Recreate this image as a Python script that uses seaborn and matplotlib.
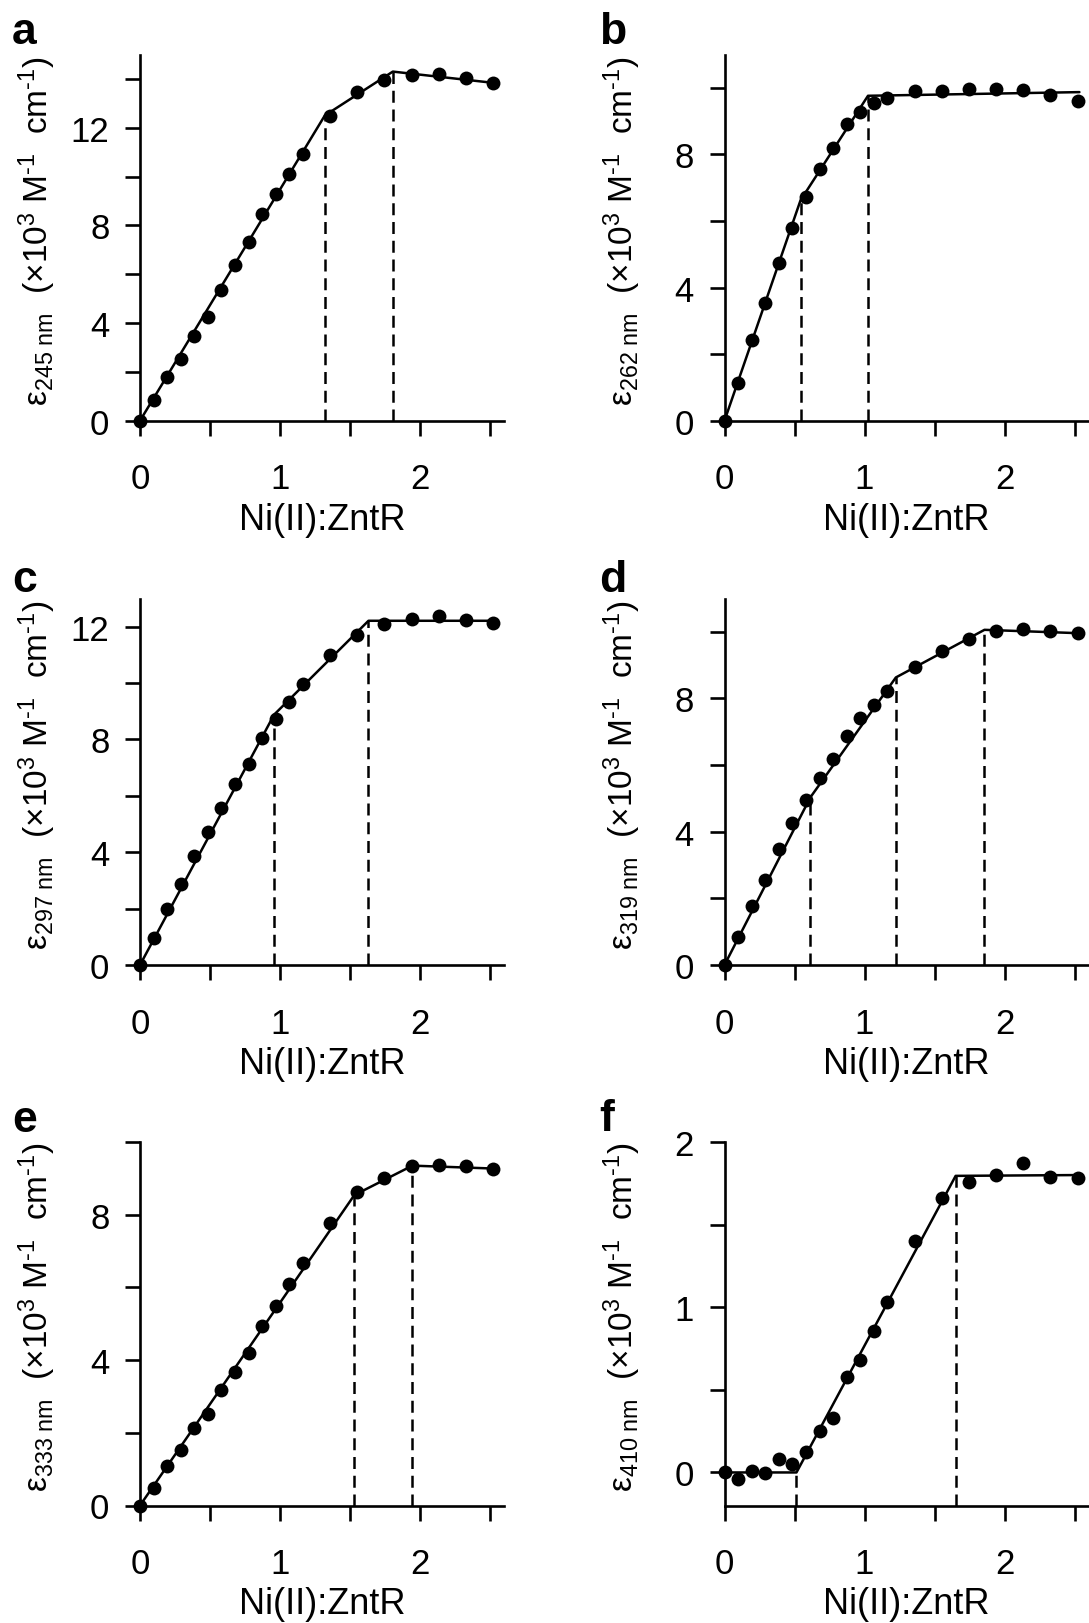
import numpy as np
import pandas as pd
import matplotlib
matplotlib.use("Agg")
import matplotlib.pyplot as plt
import seaborn as sns

# Ni(II):ZntR molar ratio for each titration point (shared by all panels)
ratio = [0.000, 0.097, 0.194, 0.291, 0.388, 0.485, 0.582, 0.679, 0.776, 0.873,
         0.970, 1.067, 1.164, 1.358, 1.552, 1.746, 1.940, 2.134, 2.328, 2.522]

# Extinction coefficients (x10^3 M^-1 cm^-1) at each wavelength
eps_245 = [0.00, 0.84, 1.77, 2.54, 3.48, 4.26, 5.35, 6.37, 7.33, 8.47,
           9.28, 10.10, 10.91, 12.50, 13.48, 13.96, 14.17, 14.21, 14.04, 13.84]
eps_262 = [0.00, 1.13, 2.43, 3.55, 4.75, 5.79, 6.72, 7.55, 8.18, 8.90,
           9.27, 9.53, 9.68, 9.89, 9.91, 9.97, 9.96, 9.93, 9.79, 9.61]
eps_297 = [0.00, 0.94, 1.98, 2.87, 3.88, 4.73, 5.58, 6.41, 7.14, 8.06,
           8.71, 9.34, 9.95, 11.01, 11.72, 12.11, 12.27, 12.37, 12.25, 12.12]
eps_319 = [0.00, 0.83, 1.76, 2.56, 3.49, 4.26, 4.95, 5.62, 6.19, 6.88,
           7.42, 7.81, 8.23, 8.95, 9.42, 9.78, 10.01, 10.09, 10.03, 9.96]
eps_333 = [0.00, 0.49, 1.09, 1.52, 2.12, 2.53, 3.18, 3.67, 4.20, 4.95,
           5.48, 6.10, 6.66, 7.78, 8.63, 9.01, 9.35, 9.36, 9.35, 9.25]
eps_410 = [0.000, -0.040, 0.010, -0.004, 0.084, 0.052, 0.126, 0.253, 0.331, 0.577,
           0.680, 0.858, 1.031, 1.400, 1.660, 1.760, 1.800, 1.870, 1.790, 1.785]

# Piecewise-linear fits: vertices (ratio, epsilon); inner vertices are breakpoints
fit_245_x = [0.0, 1.320, 1.806, 2.522]
fit_245_y = [0.0, 12.50, 14.30, 13.84]
fit_262_x = [0.0, 0.543, 1.025, 2.535]
fit_262_y = [0.0, 6.62, 9.76, 9.87]
fit_297_x = [0.0, 0.958, 1.632, 2.522]
fit_297_y = [0.0, 8.88, 12.21, 12.21]
fit_319_x = [0.0, 0.613, 1.224, 1.857, 2.522]
fit_319_y = [0.0, 5.03, 8.63, 10.06, 9.96]
fit_333_x = [0.0, 1.531, 1.946, 2.522]
fit_333_y = [0.0, 8.54, 9.35, 9.27]
fit_410_x = [0.0, 0.514, 1.651, 2.535]
fit_410_y = [0.0, 0.0, 1.795, 1.800]

wavelengths = ["245", "262", "297", "319", "333", "410"]
panel_letters = ["a", "b", "c", "d", "e", "f"]
y_limits = [(0, 15), (0, 11), (0, 13), (0, 11), (0, 10), (-0.2, 2)]
y_tick_step = [2, 2, 2, 2, 2, 0.5]
y_label_step = [4, 4, 4, 4, 4, 1]
x_ticks = [0, 0.5, 1, 1.5, 2, 2.5]
x_tick_labels = ["0", "", "1", "", "2", ""]

series = [eps_245, eps_262, eps_297, eps_319, eps_333, eps_410]
fits = [(fit_245_x, fit_245_y), (fit_262_x, fit_262_y), (fit_297_x, fit_297_y),
        (fit_319_x, fit_319_y), (fit_333_x, fit_333_y), (fit_410_x, fit_410_y)]

sns.set_style("ticks")
plt.rcParams["font.family"] = ["Liberation Sans", "DejaVu Sans"]
plt.rcParams["mathtext.fontset"] = "custom"
plt.rcParams["mathtext.rm"] = "Liberation Sans"
plt.rcParams["mathtext.it"] = "Liberation Sans:italic"
plt.rcParams["mathtext.bf"] = "Liberation Sans:bold"
plt.rcParams["mathtext.default"] = "regular"
for key in ("text.color", "axes.labelcolor", "axes.edgecolor",
            "xtick.color", "ytick.color"):
    plt.rcParams[key] = "black"

W, H = 1089, 1624
fig = plt.figure(figsize=(W / 100, H / 100), dpi=100)

# panel frames in pixels: (left, top, bottom)
col_left = [140, 724.5]
rows = [(55.5, 421.7), (599.5, 966.0), (1143.0, 1506.5)]
ax_w = 364
letter_pos = [(12, 43.5), (599, 43.5), (12, 592), (599, 592), (12, 1132), (599, 1131)]

LW_AX = 1.9
LW_FIT = 1.8
HY = "\u2010"  # typographic hyphen used in the unit exponents

for i in range(6):
    r, c = divmod(i, 2)
    left = col_left[c]
    top, bottom = rows[r]
    ax = fig.add_axes([left / W, 1 - bottom / H, ax_w / W, (bottom - top) / H])

    df = pd.DataFrame({"ratio": ratio, "eps": series[i]})
    fx, fy = fits[i]
    fit_df = pd.DataFrame({"ratio": fx, "eps": fy})
    ylo, yhi = y_limits[i]

    # breakpoint markers
    ax.vlines(fx[1:-1], ylo, fy[1:-1], colors="black", linewidth=LW_FIT,
              linestyles=(0, (4.8, 2.7)), zorder=1)
    sns.lineplot(data=fit_df, x="ratio", y="eps", sort=False, estimator=None,
                 color="black", linewidth=LW_FIT, ax=ax, zorder=2)
    sns.scatterplot(data=df, x="ratio", y="eps", s=100, color="black",
                    linewidth=0, ax=ax, zorder=3, clip_on=False)

    ax.set_xlim(0, 2.6)
    ax.set_ylim(ylo, yhi)
    ax.set_xticks(x_ticks)
    ax.set_xticklabels(x_tick_labels)
    step = y_tick_step[i]
    yt = np.arange(0, yhi + 1e-9, step)
    ax.set_yticks(yt)
    lab_step = y_label_step[i]
    ax.set_yticklabels([f"{v:g}" if abs(v / lab_step - round(v / lab_step)) < 1e-6 else ""
                        for v in yt])

    sns.despine(ax=ax)
    for sp in ("left", "bottom"):
        ax.spines[sp].set_linewidth(LW_AX)
        ax.spines[sp].set_color("black")
    ax.tick_params(axis="both", direction="out", length=11, width=LW_AX,
                   labelsize=25, colors="black")
    ax.tick_params(axis="x", pad=19)
    ax.tick_params(axis="y", pad=11)

    ax.set_xlabel("Ni(II):ZntR", fontsize=26)
    ax.xaxis.set_label_coords(0.5, -0.222)
    ax.set_ylabel("ε$_{" + wavelengths[i] + r"\ nm}$  (×10$^{3}$ M$^{" + HY + "1}$  cm$^{"
                  + HY + "1}$)", fontsize=24)
    ax.yaxis.set_label_coords(-0.225, 0.52)

    lx, ly = letter_pos[i]
    fig.text(lx / W, 1 - ly / H, panel_letters[i], fontsize=32, fontweight="bold",
             ha="left", va="baseline")

fig.savefig("out.png", dpi=100)
